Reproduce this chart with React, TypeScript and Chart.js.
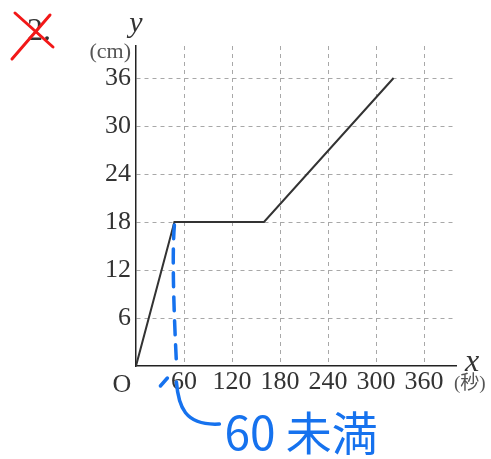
import React, { useEffect, useRef } from "react";
import { Chart, registerables } from "chart.js";
Chart.register(...registerables);

// Data
const xValues = [0, 48, 160, 322];
const yValues = [0, 18, 18, 36];
const xTicks = [60, 120, 180, 240, 300, 360];
const yTicks = [6, 12, 18, 24, 30, 36];
const xMax = 400;
const yMax = 40;
const xTitle = "x";
const xUnit = "(秒)";
const yTitle = "y";
const yUnit = "(cm)";
const originLabel = "O";
const problemNo = "2.";
const note = "60 未満";

const SERIF = '"Liberation Serif", "DejaVu Serif", serif';
const BLUE = "#1672ee";

const annotPlugin = {
  id: "annot",
  afterDraw(chart: any) {
    const { ctx, scales } = chart;
    const x = scales.x;
    const y = scales.y;
    const ox = x.getPixelForValue(0);
    const oy = y.getPixelForValue(0);
    const top = y.getPixelForValue(yMax);
    const right = x.getPixelForValue(xMax);
    ctx.save();
    // axis titles
    ctx.fillStyle = "#333";
    ctx.font = "italic 30px " + SERIF;
    ctx.textAlign = "center";
    ctx.textBaseline = "alphabetic";
    ctx.fillText(yTitle, ox, top - 14);
    ctx.font = "22px " + SERIF;
    ctx.fillStyle = "#555";
    ctx.textAlign = "right";
    ctx.fillText(yUnit, ox - 5, top + 12);
    ctx.fillStyle = "#333";
    ctx.font = "italic 32px " + SERIF;
    ctx.textAlign = "left";
    ctx.fillText(xTitle, right + 9, oy + 5);
    ctx.fillStyle = "#555";
    ctx.font = '19px ' + SERIF + ', "Noto Sans CJK JP"';
    ctx.fillText(xUnit, right - 2, oy + 23);
    ctx.fillStyle = "#333";
    ctx.font = "26px " + SERIF;
    ctx.textAlign = "center";
    ctx.fillText(originLabel, ox - 14, oy + 26);
    // problem number, crossed out
    ctx.fillStyle = "#333";
    ctx.font = "32px " + SERIF;
    ctx.textAlign = "left";
    ctx.fillText(problemNo, 27, 40);
    ctx.strokeStyle = "#f21818";
    ctx.lineWidth = 3;
    ctx.lineCap = "round";
    ctx.beginPath();
    ctx.moveTo(15, 13);
    ctx.lineTo(53, 47);
    ctx.moveTo(50, 15);
    ctx.lineTo(12, 59);
    ctx.stroke();
    // blue handwritten note
    const kx = x.getPixelForValue(xValues[1]);
    const ky = y.getPixelForValue(yValues[1]);
    ctx.strokeStyle = BLUE;
    ctx.lineWidth = 3.5;
    ctx.setLineDash([14, 10]);
    ctx.beginPath();
    ctx.moveTo(kx, ky + 3);
    ctx.quadraticCurveTo(kx - 3, ky + 40, kx + 2, oy - 4);
    ctx.stroke();
    ctx.setLineDash([]);
    ctx.beginPath();
    ctx.moveTo(kx - 14, oy + 20);
    ctx.lineTo(kx - 7, oy + 12);
    ctx.moveTo(kx + 2, oy + 16);
    ctx.bezierCurveTo(kx + 4, oy + 40, kx + 10, oy + 60, kx + 45, oy + 58);
    ctx.stroke();
    ctx.fillStyle = BLUE;
    ctx.font = '46px "Noto Sans CJK JP", "Noto Sans", sans-serif';
    ctx.textAlign = "left";
    ctx.fillText(note, kx + 50, oy + 84);
    ctx.restore();
  },
};

export default function App() {
  const ref = useRef<HTMLCanvasElement | null>(null);
  useEffect(() => {
    if (!ref.current) return;
    const data = xValues.map((v, i) => ({ x: v, y: yValues[i] }));
    const chart = new Chart(ref.current, {
      type: "line",
      data: {
        datasets: [
          {
            data,
            borderColor: "#333",
            borderWidth: 2,
            pointRadius: 0,
            tension: 0,
          },
        ],
      },
      options: {
        animation: false,
        responsive: false,
        plugins: { legend: { display: false }, tooltip: { enabled: false } },
        layout: { padding: { left: 0, top: 46, right: 35, bottom: 0 } },
        scales: {
          x: {
            type: "linear",
            min: 0,
            max: xMax,
            afterBuildTicks: (s: any) => {
              s.ticks = xTicks.map((v) => ({ value: v }));
            },
            afterFit: (s: any) => {
              s.height = 93;
            },
            ticks: {
              color: "#333",
              font: { family: SERIF, size: 26 },
              padding: 1,
              maxRotation: 0,
              autoSkip: false,
            },
            grid: { color: "#a8a8a8", lineWidth: 1, drawTicks: false },
            border: { display: true, color: "#222", width: 1.5, dash: [4, 4] },
          },
          y: {
            min: 0,
            max: yMax,
            afterBuildTicks: (s: any) => {
              s.ticks = yTicks.map((v) => ({ value: v }));
            },
            afterFit: (s: any) => {
              s.width = 136;
            },
            ticks: {
              color: "#333",
              font: { family: SERIF, size: 26 },
              padding: 5,
              autoSkip: false,
            },
            grid: { color: "#a8a8a8", lineWidth: 1, drawTicks: false },
            border: { display: true, color: "#222", width: 1.5, dash: [4, 4] },
          },
        },
      },
      plugins: [annotPlugin],
    } as any);
    return () => chart.destroy();
  }, []);
  return (
    <div style={{ position: "absolute", left: 0, top: 0, width: 491, height: 459, background: "#fff" }}>
      <canvas ref={ref} width={491} height={459} style={{ width: 491, height: 459 }} />
    </div>
  );
}
